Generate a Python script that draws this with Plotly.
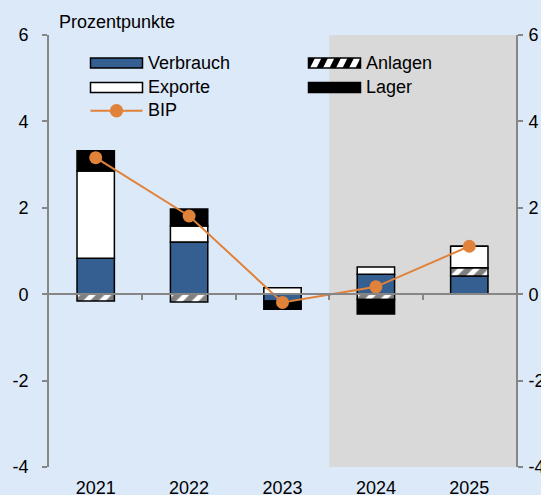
import plotly.graph_objects as go

# Wachstumsbeiträge zum BIP in Prozentpunkten
years = ["2021", "2022", "2023", "2024", "2025"]
verbrauch = [0.83, 1.21, -0.16, 0.46, 0.42]
anlagen = [-0.16, -0.18, 0.0, -0.12, 0.19]
exporte = [2.02, 0.37, 0.15, 0.17, 0.50]
lager = [0.47, 0.39, -0.19, -0.34, 0.0]
bip = [3.16, 1.81, -0.19, 0.17, 1.11]
forecast_from = "2024"

y_range = [-4, 6]
y_ticks = [-4, -2, 0, 2, 4, 6]
y_ticktext = [str(v) for v in y_ticks]

BG = "rgb(220,233,248)"
SHADE = "rgb(217,217,217)"
BLUE = "rgb(53,94,145)"
ORANGE = "rgb(224,130,58)"
AXIS = "rgb(134,134,134)"
FONT = "Liberation Sans, Arial, sans-serif"

WIDTH, HEIGHT = 541, 495
M = dict(l=49, r=25, t=35, b=28)
PLOT_W = WIDTH - M["l"] - M["r"]
PLOT_H = HEIGHT - M["t"] - M["b"]


def px(x):
    """page x (px) -> paper x"""
    return (x - M["l"]) / PLOT_W


def py(y):
    """page y (px, from top) -> paper y"""
    return (HEIGHT - M["b"] - y) / PLOT_H


outline = dict(color="black", width=1.5)
bar_width = 0.4
hatch = dict(shape="/", fgcolor="black", bgcolor="white", size=11, solidity=0.55)

fig = go.Figure()
fig.add_bar(name="Verbrauch", x=years, y=verbrauch, width=bar_width,
            marker=dict(color=BLUE, line=outline))
fig.add_bar(name="Anlagen", x=years, y=anlagen, width=bar_width,
            marker=dict(color="white", line=outline, pattern=hatch))
fig.add_bar(name="Exporte", x=years, y=exporte, width=bar_width,
            marker=dict(color="white", line=outline))
fig.add_bar(name="Lager", x=years, y=lager, width=bar_width,
            marker=dict(color="black", line=outline))
fig.add_scatter(name="BIP", x=years, y=bip, mode="lines+markers",
                line=dict(color=ORANGE, width=2),
                marker=dict(color=ORANGE, size=13))

# helper trace so the secondary axes (right scale, zero line) are drawn
fig.add_scatter(x=[None], y=[None], xaxis="x2", yaxis="y2",
                showlegend=False, hoverinfo="skip")

n = len(years)
boundaries = [i + 0.5 for i in range(n - 1)]
start = years.index(forecast_from) - 0.5

# forecast period shading
fig.add_shape(type="rect", xref="x", yref="paper", x0=start, x1=n - 0.5,
              y0=0, y1=1, fillcolor=SHADE, line_width=0, layer="below")

fig.add_annotation(text="Prozentpunkte", xref="paper", yref="paper",
                   x=px(57), y=py(22), xanchor="left", yanchor="middle",
                   showarrow=False, font=dict(size=18, color="black"))

# ---- legend: wide swatches in two columns ----
sw_len, sw_h = 52, 10
col_x = [90.5, 308.5]
row_y = [63, 87.5, 110.7]
legend_items = [
    ("Verbrauch", 0, 0, dict(fill=BLUE)),
    ("Anlagen", 1, 0, dict(fill="white", hatch=True)),
    ("Exporte", 0, 1, dict(fill="white")),
    ("Lager", 1, 1, dict(fill="black")),
]
for label, c, r, style in legend_items:
    x0, x1 = col_x[c], col_x[c] + sw_len
    yc = row_y[r]
    fig.add_shape(type="rect", xref="paper", yref="paper",
                  x0=px(x0), x1=px(x1), y0=py(yc + sw_h / 2), y1=py(yc - sw_h / 2),
                  fillcolor=style["fill"], line=dict(color="black", width=1.5),
                  layer="above")
    if style.get("hatch"):
        period, band, slant = 13, 6.5, 5
        parts = []
        xb = x0 - slant
        while xb < x1:
            pts = [(xb, yc + sw_h / 2), (xb + band, yc + sw_h / 2),
                   (xb + band + slant, yc - sw_h / 2), (xb + slant, yc - sw_h / 2)]
            pts = [(min(max(a, x0), x1), b) for a, b in pts]
            parts.append("M" + "L".join(f"{px(a):.5f},{py(b):.5f}" for a, b in pts) + "Z")
            xb += period
        fig.add_shape(type="path", xref="paper", yref="paper", path=" ".join(parts),
                      fillcolor="black", line_width=0, layer="above")
    fig.add_annotation(text=label, xref="paper", yref="paper",
                       x=px(x1 + 3), y=py(yc - 0.5), xanchor="left", yanchor="middle",
                       showarrow=False, font=dict(size=18, color="black"))

# BIP legend entry: line with dot
bx0, bx1, by = col_x[0], col_x[0] + sw_len, row_y[2]
fig.add_shape(type="line", xref="paper", yref="paper", x0=px(bx0), x1=px(bx1),
              y0=py(by), y1=py(by), line=dict(color=ORANGE, width=2), layer="above")
rad = 6.7
bxc = (bx0 + bx1) / 2
fig.add_shape(type="circle", xref="paper", yref="paper",
              x0=px(bxc - rad), x1=px(bxc + rad), y0=py(by + rad), y1=py(by - rad),
              fillcolor=ORANGE, line_width=0, layer="above")
fig.add_annotation(text="BIP", xref="paper", yref="paper",
                   x=px(bx1 + 3), y=py(by - 0.5), xanchor="left", yanchor="middle",
                   showarrow=False, font=dict(size=18, color="black"))

zero_pos = (0 - y_range[0]) / (y_range[1] - y_range[0])

fig.update_layout(
    width=WIDTH, height=HEIGHT,
    margin=M,
    paper_bgcolor=BG, plot_bgcolor=BG,
    font=dict(family=FONT, size=18, color="black"),
    barmode="relative",
    showlegend=False,
    xaxis=dict(range=[-0.5, n - 0.5], showline=False, showgrid=False,
               zeroline=False, ticks="", tickfont=dict(size=18),
               ticklabelstandoff=8, automargin=False),
    xaxis2=dict(overlaying="x", anchor="free", position=zero_pos,
                range=[-0.5, n - 0.5], showline=True, linecolor=AXIS,
                linewidth=2, ticks="outside", ticklen=5, tickwidth=1.5,
                tickcolor=AXIS, tickvals=boundaries, showticklabels=False,
                showgrid=False, zeroline=False, layer="above traces",
                automargin=False),
    yaxis=dict(range=y_range, tickvals=y_ticks, ticktext=y_ticktext,
               showgrid=False, zeroline=False,
               showline=True, linecolor=AXIS, linewidth=1.8, ticks="outside",
               ticklen=5, tickwidth=1.5, tickcolor=AXIS,
               tickfont=dict(size=18), ticklabelstandoff=10, automargin=False),
    yaxis2=dict(overlaying="y", side="right", range=y_range, tickvals=y_ticks,
                ticktext=y_ticktext,
                showgrid=False, zeroline=False, showline=True, linecolor=AXIS,
                linewidth=1.8, ticks="outside", ticklen=5, tickwidth=1.5,
                tickcolor=AXIS, tickfont=dict(size=18), ticklabelstandoff=2,
                automargin=False),
)

fig.write_html("out.html")
